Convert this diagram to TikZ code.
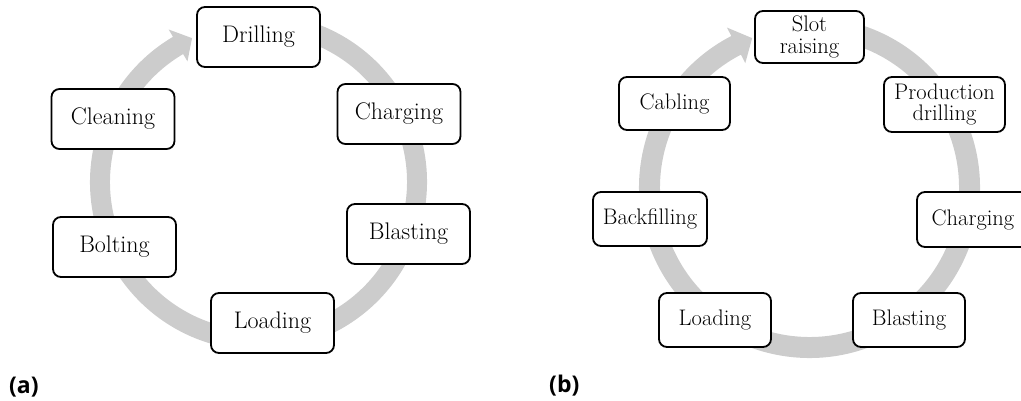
\documentclass[tikz,border=0pt]{standalone}
\usepackage{fontspec}
\usetikzlibrary{calc}
\newfontfamily\lblfont{Open Sans}
\definecolor{ringgray}{RGB}{204,204,204}
\tikzset{
  stagebox/.style={draw=black, fill=white, line width=1.8pt, rounded corners=8pt,
    inner sep=0pt, align=center},
  boxa/.style={stagebox, minimum width=123pt, minimum height=60pt, font=\fontsize{24}{22}\selectfont},
  boxb/.style={stagebox, minimum height=54pt, font=\fontsize{22.5}{21.5}\selectfont},
  ring/.style={fill=ringgray, draw=none},
  panellabel/.style={anchor=west, inner sep=0pt, font=\lblfont\bfseries\fontsize{23}{25}\selectfont}
}
\begin{document}
\begin{tikzpicture}[x=1pt,y=1pt]
\useasboundingbox (0,0) rectangle (1021,400);
% ---------- panel (a) ----------
\coordinate (ca) at (258.5,218);
\fill[ring] ($(ca)+(80:168.5)$) arc[start angle=80, end angle=-239.5, radius=168.5]
  -- ($(ca)+(-239.5:177)$) -- ($(ca)+(-245.2:158.5)$) -- ($(ca)+(-239.5:140)$)
  -- ($(ca)+(-239.5:148.5)$) arc[start angle=-239.5, end angle=80, radius=148.5] -- cycle;
\node[boxa] (drill) at (258.5,363) {Drilling};
\node[boxa] (charge) at (399,286) {Charging};
\node[boxa] (blast) at (408.5,166) {Blasting};
\node[boxa] (load) at (272.5,77) {Loading};
\node[boxa] (bolt) at (114.5,153) {Bolting};
\node[boxa] (clean) at (113,281) {Cleaning};
\node[panellabel] (la) at (9,13) {(a)};
% ---------- panel (b) ----------
\coordinate (cb) at (809.5,212.5);
\fill[ring] ($(cb)+(80:170.5)$) arc[start angle=80, end angle=-242.7, radius=170.5]
  -- ($(cb)+(-242.7:180)$) -- ($(cb)+(-249:160)$) -- ($(cb)+(-242.7:140)$)
  -- ($(cb)+(-242.7:149.5)$) arc[start angle=-242.7, end angle=80, radius=149.5] -- cycle;
\node[boxb, minimum width=109pt, minimum height=52pt] (slot) at (809.5,363) {Slot\\raising};
\node[boxb, minimum width=121pt, minimum height=55pt] (prod) at (944.5,295.5) {Production\\drilling};
\node[boxb, minimum width=112pt, minimum height=55pt] (chargeb) at (973,180.5) {Charging};
\node[boxb, minimum width=112pt] (blastb) at (909,80) {Blasting};
\node[boxb, minimum width=112pt] (loadb) at (715,80) {Loading};
\node[boxb, minimum width=114pt] (backf) at (650,181) {Backfilling};
\node[boxb, minimum width=111pt, minimum height=53pt] (cabl) at (674.5,296.5) {Cabling};
\node[panellabel] (lb) at (549,14) {(b)};
\end{tikzpicture}
\end{document}
